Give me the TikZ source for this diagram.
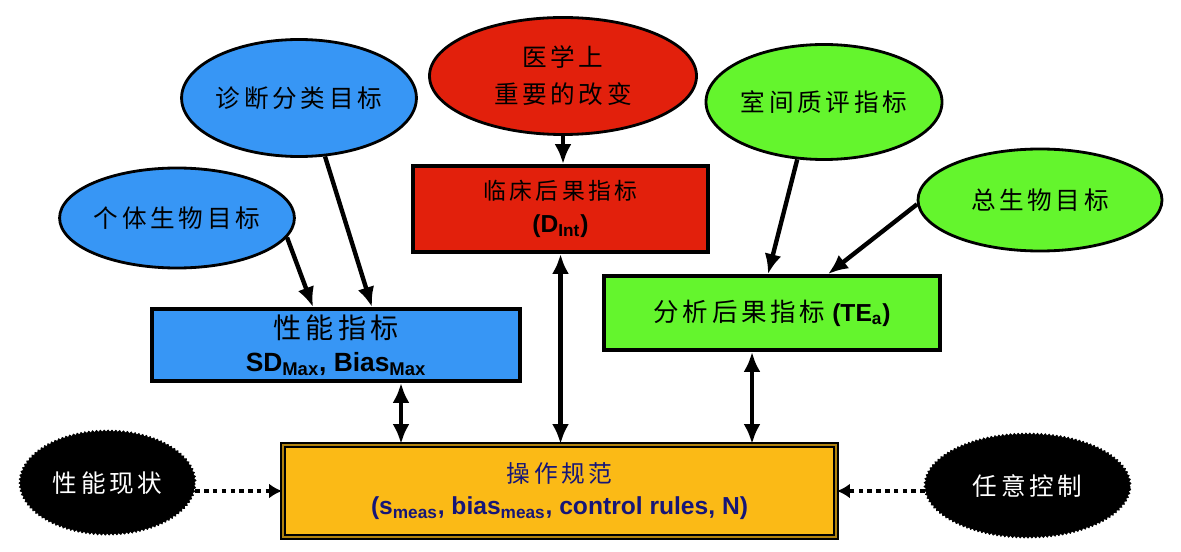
\documentclass[tikz,border=0pt]{standalone}
\usepackage{fontspec}
\setmainfont{Liberation Sans}
\newfontfamily\cjk[LetterSpace=15]{Noto Sans CJK SC}
\usetikzlibrary{arrows.meta,positioning,calc,shapes.geometric,decorations.pathmorphing}
\definecolor{QcBlue}{RGB}{55,150,245}
\definecolor{QcRed}{RGB}{226,32,12}
\definecolor{QcGreen}{RGB}{100,245,45}
\definecolor{QcGold}{RGB}{251,186,22}
\definecolor{QcNavy}{RGB}{22,22,120}
\tikzset{
  qc/goal/.style={
    ellipse,
    draw=black,
    line width=1.6pt,
    align=center,
    inner sep=0pt,
    font=\cjk\fontsize{14}{21}\selectfont
  },
  qc/box/.style={
    rectangle,
    draw=black,
    line width=2.2pt,
    align=center,
    inner sep=0pt,
    font=\bfseries\fontsize{14}{21}\selectfont
  },
  qc/spec/.style={
    rectangle,
    draw=black,
    line width=1.1pt,
    double=QcGold!70!black,
    double distance=1.2pt,
    fill=QcGold,
    align=center,
    inner sep=0pt,
    text=QcNavy,
    font=\bfseries\fontsize{14}{22}\selectfont
  },
  qc/status/.style={
    ellipse,
    draw=black,
    fill=black,
    text=white,
    inner sep=0pt,
    decorate,
    decoration={snake,amplitude=0.6pt,segment length=2.2pt},
    font=\cjk\fontsize{14}{18}\selectfont
  },
  qc/arrow/.style={-{Latex[length=4mm,width=3.4mm]}, line width=2.5pt},
  qc/both/.style={{Latex[length=4mm,width=3.4mm]}-{Latex[length=4mm,width=3.4mm]}, line width=2.5pt},
  qc/dots/.style={-{Latex[length=2.6mm,width=3mm]}, line width=2.8pt, dash pattern=on 2.6pt off 2.4pt}
}
\newcommand{\zh}[1]{{\cjk\mdseries #1}}
\newcommand{\lo}[1]{\textsubscript{#1}}
\begin{document}
\begin{tikzpicture}[x=1cm,y=1cm]
  \useasboundingbox (0,0) rectangle (23.62,11.02);
  % goals on top
  \node[qc/goal,fill=QcBlue,minimum width=4.6cm,minimum height=2cm] (indiv) at (3.54,6.66) {个体生物目标};
  \node[qc/goal,fill=QcBlue,minimum width=4.64cm,minimum height=2.34cm] (diag) at (5.98,9.06) {诊断分类目标};
  \node[qc/goal,fill=QcRed,minimum width=5.34cm,minimum height=2.34cm] (med) at (11.26,9.50) {医学上\\重要的改变};
  \node[qc/goal,fill=QcGreen,minimum width=4.72cm,minimum height=2.3cm] (eqa) at (16.48,8.98) {室间质评指标};
  \node[qc/goal,fill=QcGreen,minimum width=4.88cm,minimum height=2.04cm] (total) at (20.8,7.02) {总生物目标};
  % quality specifications
  \node[qc/box,fill=QcBlue,minimum width=7.36cm,minimum height=1.44cm] (perf) at (6.72,4.12)
    {\zh{\fontsize{16}{21}\selectfont 性能指标}\\[-2pt]{\fontsize{15}{18}\selectfont SD\lo{Max}, Bias\lo{Max}}};
  \node[qc/box,fill=QcRed,minimum width=5.9cm,minimum height=1.72cm] (clin) at (11.21,6.84)
    {\zh{\fontsize{13}{21}\selectfont 临床后果指标}\\[-2pt](D\lo{Int})};
  \node[qc/box,fill=QcGreen,minimum width=6.72cm,minimum height=1.48cm] (anal) at (15.44,4.76)
    {\zh{\fontsize{14.5}{18}\selectfont 分析后果指标} (TE\lo{a})};
  % operating specifications
  \node[qc/spec,minimum width=11.06cm,minimum height=1.84cm] (spec) at (11.19,1.20)
    {\zh{\fontsize{13.5}{22}\selectfont 操作规范}\\[-4pt](s\lo{meas}, bias\lo{meas}, control rules, N)};
  \node[qc/status,minimum width=3.5cm,minimum height=2.06cm] (perfnow) at (2.15,1.35) {性能现状};
  \node[qc/status,minimum width=4.1cm,minimum height=2.06cm] (arbctl) at (20.55,1.29) {任意控制};
  % connectors
  \draw[qc/arrow] (indiv.-10) -- ([xshift=-0.46cm]perf.north);
  \draw[qc/arrow] (diag.-66) -- ([xshift=0.72cm]perf.north);
  \draw[qc/arrow] (med.south) -- (med.south |- clin.north);
  \draw[qc/arrow] (eqa.-115) -- ([xshift=-0.08cm]anal.north);
  \draw[qc/arrow] (total.182) -- ([xshift=1.12cm]anal.north);
  \draw[qc/both] ([xshift=1.3cm]perf.south) -- ([xshift=1.3cm]perf.south |- spec.north);
  \draw[qc/both] (clin.south) -- (clin.south |- spec.north);
  \draw[qc/both] ([xshift=-0.4cm]anal.south) -- ([xshift=-0.4cm]anal.south |- spec.north);
  \draw[qc/dots] (spec.west -| perfnow.east) -- (spec.west);
  \draw[qc/dots] (spec.east -| arbctl.west) -- (spec.east);
\end{tikzpicture}
\end{document}
